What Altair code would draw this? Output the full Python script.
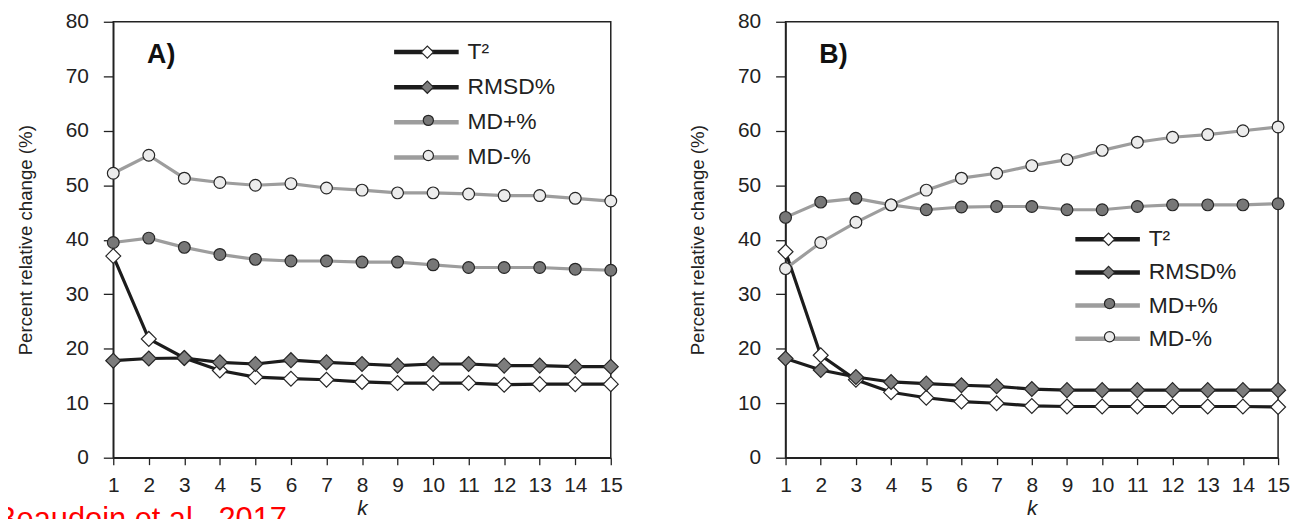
import math
import altair as alt
import pandas as pd

# ---------------- data ----------------
k_values = list(range(1, 16))
series_names = ["T²", "RMSD%", "MD+%", "MD-%"]

a_t2 = [37.0, 21.8, 18.3, 16.0, 14.8, 14.5, 14.3, 13.9, 13.7, 13.7, 13.7, 13.4, 13.5, 13.5, 13.5]
a_rmsd = [17.8, 18.2, 18.3, 17.5, 17.2, 17.9, 17.5, 17.2, 16.9, 17.2, 17.2, 16.9, 16.9, 16.7, 16.7]
a_mdp = [39.5, 40.3, 38.6, 37.3, 36.4, 36.1, 36.1, 35.9, 35.9, 35.4, 34.9, 34.9, 34.9, 34.6, 34.4]
a_mdm = [52.2, 55.5, 51.3, 50.5, 50.0, 50.3, 49.5, 49.1, 48.6, 48.6, 48.4, 48.1, 48.1, 47.6, 47.1]

b_t2 = [37.8, 18.8, 14.3, 12.0, 11.0, 10.3, 10.0, 9.5, 9.4, 9.4, 9.4, 9.4, 9.4, 9.4, 9.3]
b_rmsd = [18.2, 16.1, 14.8, 13.9, 13.6, 13.3, 13.1, 12.6, 12.4, 12.4, 12.4, 12.4, 12.4, 12.4, 12.4]
b_mdp = [44.1, 46.9, 47.6, 46.4, 45.5, 46.0, 46.1, 46.1, 45.5, 45.5, 46.1, 46.4, 46.4, 46.4, 46.6]
b_mdm = [34.7, 39.5, 43.2, 46.4, 49.1, 51.3, 52.2, 53.6, 54.7, 56.4, 57.9, 58.8, 59.3, 60.0, 60.7]

panel_labels = ["A)", "B)"]
y_title = "Percent relative change  (%)"
x_title = "k"
y_ticks = list(range(0, 81, 10))
citation = ["Beaudoin et al., 2017"]

# ---------------- styles ----------------
FONT = "Liberation Sans"
INK = "#222222"
line_colors = ["#1c1c1c", "#1c1c1c", "#9d9d9d", "#9d9d9d"]
marker_fills = ["#ffffff", "#7d7d7d", "#777777", "#ececec"]
DIAMOND_SIZE = 225
CIRCLE_SIZE = 140
MARKER_STROKE = "#262626"

LEG_HALF = 32.5            # half length of legend line (px)
LEG_LINE_W = 4.5
LEG_PATH_EXT = 6           # legend line path spans -6..6 in symbol units
LEG_LINE_SIZE = (2 * LEG_HALF / LEG_PATH_EXT) ** 2
LEG_DIAMOND = 150
LEG_CIRCLE = 105
LEG_SYM_SW = 1.2
LEG_FONT = 23

# marker keys differ from line keys so the legends stay separate
marker_keys = [s + " " for s in series_names]


def long_df(values):
    rows = []
    for order, (name, key, vals) in enumerate(zip(series_names, marker_keys, values)):
        for kk, v in zip(k_values, vals):
            rows.append({"k": kk, "value": v, "series": name,
                         "marker": key, "order": order})
    return pd.DataFrame(rows)


def make_panel(values, label, width, line_left, leg_y, row_pad, with_citation):
    df = long_df(values)
    base = alt.Chart(df)
    x_enc = alt.X("k:Q",
                  scale=alt.Scale(domain=[1, 15], nice=False, zero=False),
                  axis=alt.Axis(values=k_values, title=x_title, titleFontStyle="italic",
                                titleFont=FONT, titleFontSize=21, titleFontWeight="normal",
                                titleColor=INK, titlePadding=2,
                                labelFont=FONT, labelFontSize=21, labelColor=INK,
                                labelPadding=10.5, labelFlush=False, labelOverlap=False,
                                tickSize=7, grid=False))
    y_enc = alt.Y("value:Q",
                  scale=alt.Scale(domain=[0, 80], nice=False),
                  axis=alt.Axis(values=y_ticks, title=y_title,
                                titleFont=FONT, titleFontSize=18.8, titleFontWeight="normal",
                                titleColor=INK, titlePadding=30,
                                labelFont=FONT, labelFontSize=21, labelColor=INK,
                                labelPadding=15, tickSize=10, grid=False))

    step = LEG_FONT + row_pad
    off1 = math.sqrt(LEG_LINE_SIZE) + LEG_LINE_W
    leg_x1 = line_left + LEG_HALF - off1 / 2
    centre = leg_x1 + off1 / 2
    label_offset = (line_left + 2 * LEG_HALF + 5) - (leg_x1 + off1)

    def marker_legend(sym_type, sym_size, y):
        off = math.sqrt(sym_size) + LEG_SYM_SW
        return alt.Legend(
            title=None, orient="none", legendX=centre - off / 2, legendY=y,
            direction="vertical", symbolType=sym_type, symbolSize=sym_size,
            symbolStrokeColor=MARKER_STROKE, symbolStrokeWidth=LEG_SYM_SW, symbolOpacity=1,
            labelFont=FONT, labelFontSize=LEG_FONT, labelOpacity=0, labelExpr="' '",
            rowPadding=row_pad, padding=0)

    legend_lines = alt.Legend(
        title=None, orient="none", legendX=leg_x1, legendY=leg_y, direction="vertical",
        symbolType=f"M-{LEG_PATH_EXT},0L{LEG_PATH_EXT},0", symbolSize=LEG_LINE_SIZE,
        symbolStrokeWidth=LEG_LINE_W,
        labelFont=FONT, labelFontSize=LEG_FONT, labelColor=INK, labelOffset=label_offset,
        rowPadding=row_pad, padding=0,
        labelExpr="datum.label == 'T²' ? ' T²' : datum.label")

    lines = base.mark_line(strokeWidth=3.2).encode(
        x=x_enc, y=y_enc,
        color=alt.Color("series:N",
                        scale=alt.Scale(domain=series_names, range=line_colors),
                        legend=legend_lines),
    )
    diamonds = base.transform_filter(
        alt.FieldOneOfPredicate(field="marker", oneOf=marker_keys[:2])
    ).mark_point(filled=True, opacity=1, shape="diamond", size=DIAMOND_SIZE,
                 stroke=MARKER_STROKE, strokeWidth=1.2).encode(
        x=x_enc, y=y_enc,
        fill=alt.Fill("marker:N",
                      scale=alt.Scale(domain=marker_keys[:2], range=marker_fills[:2]),
                      legend=marker_legend("diamond", LEG_DIAMOND, leg_y)),
        order=alt.Order("order:Q"),
    )
    circles = base.transform_filter(
        alt.FieldOneOfPredicate(field="marker", oneOf=marker_keys[2:])
    ).mark_point(filled=True, opacity=1, shape="circle", size=CIRCLE_SIZE,
                 stroke=MARKER_STROKE, strokeWidth=1.2).encode(
        x=x_enc, y=y_enc,
        fill=alt.Fill("marker:N",
                      scale=alt.Scale(domain=marker_keys[2:], range=marker_fills[2:]),
                      legend=marker_legend("circle", LEG_CIRCLE, leg_y + 2 * step)),
        order=alt.Order("order:Q"),
    )
    tag = alt.Chart(pd.DataFrame({"label": [label]})).mark_text(
        font=FONT, fontSize=27, fontWeight="bold", align="left", baseline="middle", color="#111111"
    ).encode(text="label:N", x=alt.value(34), y=alt.value(34))

    layers = [lines, diamonds, circles, tag]
    if with_citation:
        cite = alt.Chart(pd.DataFrame({"label": citation})).mark_text(
            font=FONT, fontSize=31, color="#ff0000", align="left", baseline="alphabetic"
        ).encode(text="label:N", x=alt.value(-118), y=alt.value(511))
        layers.append(cite)
    return alt.layer(*layers).resolve_scale(fill="independent").resolve_legend(
        fill="independent").properties(width=width, height=439)


panel_a = make_panel([a_t2, a_rmsd, a_mdp, a_mdm], panel_labels[0], 501, 279, 19, 11.4, True)
panel_b = make_panel([b_t2, b_rmsd, b_mdp, b_mdm], panel_labels[1], 496, 288, 207.5, 9.4, False)

chart = alt.hconcat(panel_a, panel_b, spacing=64).resolve_scale(
    color="independent", fill="independent"
).resolve_legend(
    color="independent", fill="independent"
).properties(
    padding={"left": -13, "top": 0, "right": 0, "bottom": 0}
).configure_view(
    stroke=INK, strokeWidth=1.5
).configure_axis(
    domainColor=INK, domainWidth=1.5, tickColor=INK, tickWidth=1.3
)

chart.save("out.html", embed_options={"renderer": "svg", "actions": False})
